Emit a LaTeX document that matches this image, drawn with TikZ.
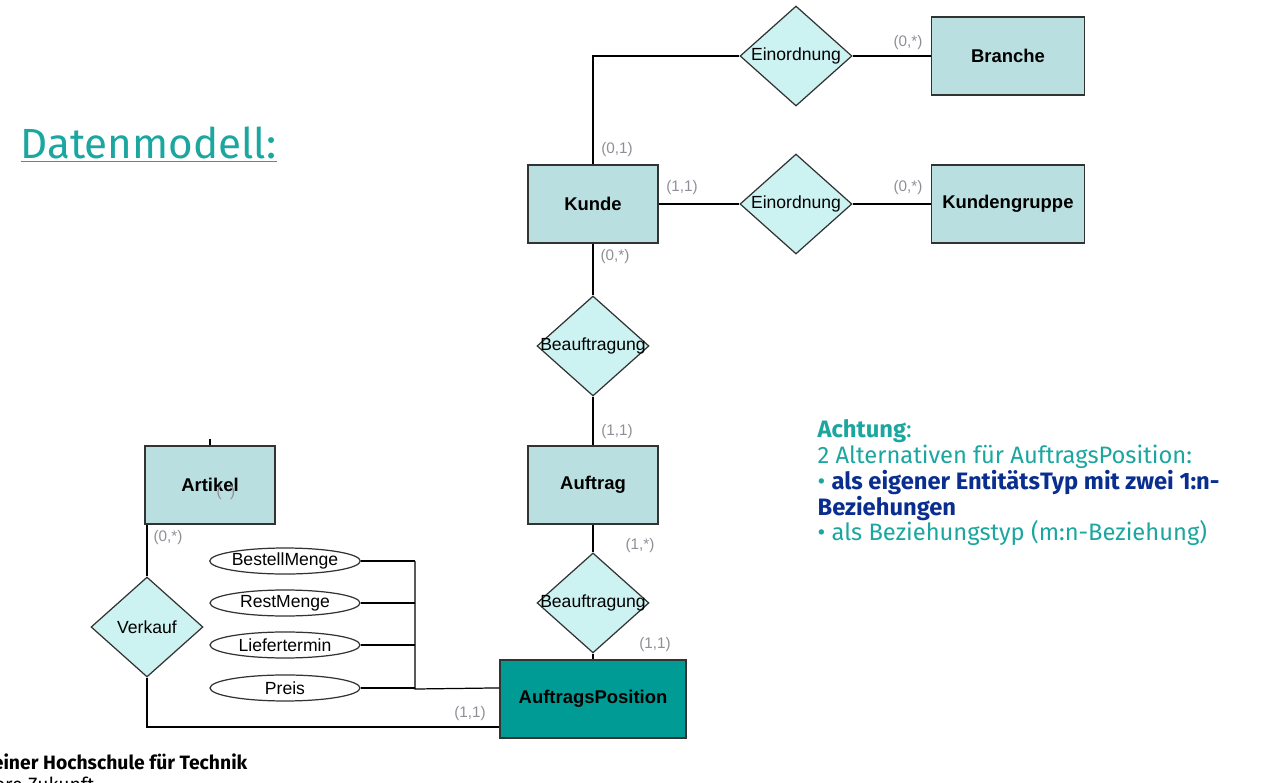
\documentclass[tikz,border=0pt]{standalone}
\usepackage{fontspec}
\setmainfont{Fira Sans}
\newfontfamily\erfont{Liberation Sans}
\usetikzlibrary{shapes.geometric,positioning}
\definecolor{entfill}{HTML}{B9DFE1}
\definecolor{relfill}{HTML}{CCF2F2}
\definecolor{posfill}{HTML}{009B95}
\definecolor{zteal}{HTML}{1BA6A0}
\definecolor{zblue}{HTML}{0A2E8F}
\definecolor{cardgray}{HTML}{8E8E96}

\begin{document}
\begin{tikzpicture}[x=0.02cm,y=-0.02cm,line width=0.7pt,on grid,
  entity/.style={rectangle,draw=black!80,fill=entfill,minimum width=2.6cm,
    minimum height=1.56cm,font=\erfont\bfseries\fontsize{10.5}{12}\selectfont},
  relation/.style={diamond,draw=black!80,fill=relfill,minimum width=2.24cm,
    minimum height=2cm,inner sep=0pt,
    label={[font=\erfont\fontsize{10}{12}\selectfont]center:#1}},
  attrib/.style={ellipse,draw=black!80,fill=white,minimum width=3cm,
    minimum height=0.52cm,inner sep=0pt,font=\erfont\fontsize{10}{12}\selectfont},
  card/.style={text=cardgray,font=\erfont\fontsize{8.7}{10}\selectfont,inner sep=0pt}]
\useasboundingbox (0,0) rectangle (1281,782);

% title
\node[anchor=base west,text=zteal,font=\fontsize{24}{28}\selectfont,inner sep=0pt]
  (title) at (20,158) {\underline{Datenmodell:}};

% entities and relations
\node[entity] (kunde) at (593,204) {Kunde};
\node[relation=Einordnung] (einord1) at (796,56) {};
\node[entity,minimum width=3.06cm] (branche) [right=4.24cm of einord1] {Branche};
\node[relation=Einordnung] (einord2) [right=4.06cm of kunde] {};
\node[entity,minimum width=3.06cm] (kgruppe) [right=4.24cm of einord2] {Kundengruppe};
\node[relation=Beauftragung] (beauf1) [below=2.84cm of kunde] {};
\node[entity] (auftrag) [below=2.78cm of beauf1] {Auftrag};
\node[relation=Beauftragung] (beauf2) [below=2.36cm of auftrag] {};
\node[entity,fill=posfill,minimum width=3.72cm] (apos) [below=1.92cm of beauf2] {AuftragsPosition};
\node[entity] (artikel) at (210,485) {Artikel};
\node[relation=Verkauf] (verkauf) at (147,627) {};

% attributes
\node[attrib] (bestell) at (285,561) {BestellMenge};
\node[attrib] (rest) [below=0.84cm of bestell] {RestMenge};
\node[attrib] (liefer) [below=0.84cm of rest] {Liefertermin};
\node[attrib] (preis) [below=0.86cm of liefer] {Preis};
\coordinate (bus) at (415,689);

% connectors
\draw (kunde.north) |- (einord1.west);
\draw (einord1.east) -- (branche.west);
\draw (kunde.east) -- (einord2.west);
\draw (einord2.east) -- (kgruppe.west);
\draw (kunde.south) -- (beauf1.north);
\draw (beauf1.south) -- (auftrag.north);
\draw (auftrag.south) -- (beauf2.north);
\draw (beauf2.south) -- (apos.north);
\draw (verkauf.north) -- (verkauf.north |- artikel.south);
\draw (verkauf.south) |- ([yshift=-0.56cm]apos.west);
\coordinate (artstub) at ([yshift=0.12cm]artikel.north);
\draw (artikel.north) -- (artstub);
\foreach \a in {bestell,rest,liefer,preis}
  \draw (\a.east) -- (\a.east -| bus);
\draw (bus |- bestell.east) -- (bus) -- ([yshift=0.22cm]apos.west);

% cardinalities
\node[card] (c1) at (908,43) {(0,*)};
\node[card] (c2) at (617,150) {(0,1)};
\node[card] (c3) at (682,188) {(1,1)};
\node[card] (c4) at (908,188) {(0,*)};
\node[card] (c5) at (615,257) {(0,*)};
\node[card] (c6) at (617,432) {(1,1)};
\node[card] (c7) at (640,546) {(1,*)};
\node[card] (c8) at (655,645) {(1,1)};
\node[card] (c9) at (168,538) {(0,*)};
\node[card] (c10) at (470,714) {(1,1)};
\node[card] (c11) at (226,493) {(\ \ )};

% note
\node[anchor=north west,align=left,inner sep=0pt,text=zteal,
  font=\fontsize{13.5}{14.7}\selectfont] (note) at (817,419)
  {\textbf{Achtung}:\\
   2 Alternativen für AuftragsPosition:\\
   • \textcolor{zblue}{\textbf{als eigener EntitätsTyp mit zwei 1:n-}}\\
   \textcolor{zblue}{\textbf{Beziehungen}}\\
   • als Beziehungstyp (m:n-Beziehung)};

% footer
\node[anchor=base east,inner sep=0pt,font=\bfseries\fontsize{11}{12}\selectfont]
  (foot1) at (248,769) {einer Hochschule für Technik};
\node[anchor=base east,inner sep=0pt,font=\fontsize{11}{12}\selectfont]
  (foot2) at (95,791) {iere Zukunft};
\end{tikzpicture}
\end{document}
